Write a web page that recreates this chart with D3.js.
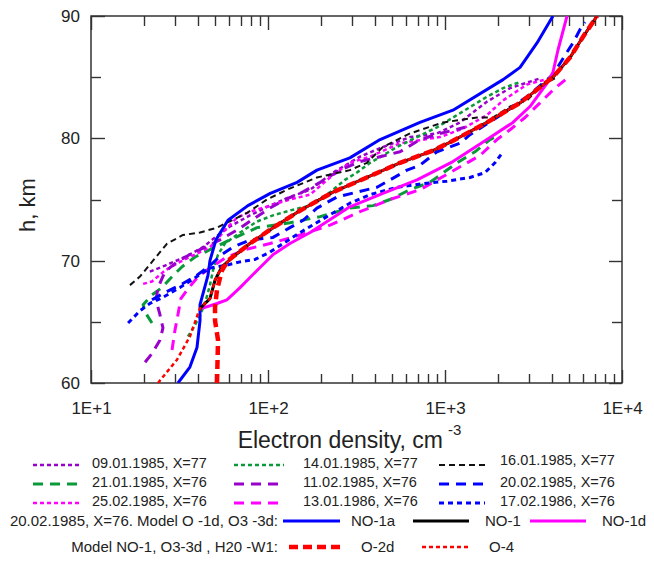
<!DOCTYPE html>
<html>
<head>
<meta charset="utf-8">
<script src="https://cdn.jsdelivr.net/npm/d3@7"></script>
<style>
body { margin: 0; background: #fff; }
svg text { font-family: "Liberation Sans", Arial, sans-serif; fill: #222; }
</style>
</head>
<body>
<div id="chart"></div>
<script>
// profiles: [electron density cm^-3, height km]
const exp0901 = [[21.5,69.1],[26.2,69.6],[34,70.3],[42.9,71.1],[50.2,71.9],[61,72.8],[79,73.7],[102.6,74.5],[133,75.2],[173,75.8],[233,77.2],[331,78.5],[430,79.2],[634,80.1],[901,80.4],[1216,81.3],[1726,83.0],[2330,84.1],[3443,84.9]];
const exp2101 = [[22.1,64.9],[20.2,65.8],[19.7,66.4],[22.1,67.2],[25.2,67.8],[28.7,68.7],[32.7,69.5],[38.7,70.3],[47,70.9],[61,71.7],[86.7,72.7],[133,73.1],[197,73.6],[290,74.3],[392,74.5],[489,75.0],[634,75.8],[822,76.4],[1169,78.0],[1476,78.9],[1795,79.9],[1915,80.1]];
const exp2502 = [[19.7,68.1],[22.1,68.3],[26.2,69.2],[31.8,69.9],[38.7,70.5],[47,71.1],[51.5,71.7],[58.6,72.7],[66.8,73.5],[79,74.0],[102.6,74.5],[133,75.0],[173,75.4],[224,76.8],[290,78.0],[377,78.5],[557,79.6],[937,80.1],[1264,80.8],[1726,81.9],[2128,83.1],[2904,84.4],[3672,84.8]];
const exp1401 = [[35.3,63.8],[38.2,64.6],[41.3,65.5],[44.6,66.8],[47,68.0],[48.9,69.2],[52.2,70.5],[57.1,71.4],[69.5,72.3],[86.7,73.2],[106.7,73.7],[133,74.1],[173,74.5],[224,75.6],[272,76.6],[318,77.2],[377,78.0],[446,78.6],[536,79.3],[695,80.1],[901,80.9],[1169,81.9],[1439,82.7],[1726,83.4],[2128,84.1],[2655,84.6]];
const exp1102 = [[20.2,61.7],[22.1,62.4],[24.5,63.5],[25.5,64.5],[24.5,65.6],[23.3,66.8],[23.9,67.8],[26.2,69.1],[30.6,69.9],[36.2,70.5],[44.1,71.1],[53.5,71.7],[66.8,72.5],[84.5,73.5],[102.6,74.3],[125,75.0],[152,75.5],[197,76.4],[255,77.4],[331,78.1],[430,78.5],[557,78.9],[722,79.9],[937,80.4],[1297,80.9]];
const exp1301 = [[28.7,62.7],[29.8,64.3],[31,65.6],[32.2,66.9],[35.3,67.7],[40.3,68.7],[47,69.4],[57.1,70.2],[74.2,70.9],[102.6,71.4],[152,72.1],[224,72.9],[331,74.0],[489,75.0],[722,75.8],[1067,77.2],[1578,78.6],[1966,79.9],[2330,80.7],[2832,81.7],[3443,82.9],[4178,84.1],[4890,84.9]];
const exp1601 = [[16.6,68],[18.9,68.7],[22.4,70],[26.9,71.4],[33.1,72.1],[41.3,72.3],[51.5,72.7],[58.6,73.1],[76,73.9],[98.7,75],[128,75.8],[189,76.8],[290,77.4],[362,78],[446,79.3],[634,80.4],[975,81.3],[1517,81.7],[1866,81.7],[2330,82.6],[2904,83.1],[3578,84.4],[4178,84.9]];
const exp2002 = [[22.1,66.8],[26.2,67.4],[31.8,68.0],[38.7,68.7],[47,69.6],[54.9,70.5],[63.4,71.1],[79,71.7],[106.7,71.9],[133,72.7],[158,73.3],[189,74.3],[245,75.2],[318,75.6],[413,76.0],[489,76.6],[610,77.4],[722,77.8],[901,78.9],[1216,79.6],[1384,80.3],[1966,81.7],[2904,83.4],[4074,85.2],[4766,86.8],[5288,87.8],[5794,88.9],[6180,89.5]];
const exp1702 = [[16.2,64.9],[18.9,65.9],[21.5,66.5],[25.5,67.0],[31.8,67.8],[38.7,68.6],[47,69.4],[57.1,69.6],[69.5,69.9],[84.5,70.1],[102.6,70.7],[124.8,71.5],[152,72.3],[215,73.6],[290,74.7],[377,75.4],[536,76.0],[751,76.3],[1026,76.5],[1384,76.8],[1683,77.2],[1915,78.0],[2128,78.9]];

const modelNO1a = [[31,60],[36.2,61.3],[39.7,62.9],[41.3,65.1],[41.3,66.4],[45.8,68.8],[47,70],[50.8,71.7],[59.4,73.3],[77,74.5],[103,75.5],[146,76.4],[189,77.4],[290,78.4],[430,79.9],[722,81.3],[1109,82.3],[2128,84.8],[2655,85.8],[3311,87.8],[4074,90]];
const modelNO1 = [[41.3,66.1],[47,66.9],[50.2,68.4],[54.9,69.5],[63.4,70.3],[79,71.4],[107,72.7],[152,74.1],[233,75.6],[362,76.8],[557,78],[855,79],[1109,79.8],[1726,81.3],[2655,82.9],[4074,85],[5082,86.6],[6026,88.3],[7228,90]];
const modelNO1d = [[42.4,66.1],[51.5,66.5],[58.6,66.8],[69.5,67.8],[86.7,69.2],[107,70.5],[133,71.4],[173,72.3],[290,74.4],[446,75.5],[695,76.6],[1109,78.1],[1726,79.9],[2421,81.3],[3020,82.6],[3767,84.5],[4074,85.4],[4345,87.2],[4890,90]];
const modelO2d = [[51.5,60],[52.2,63.5],[50.2,65.1],[50.2,66.2],[51.5,67.6],[54.9,69.2],[59.4,70.0],[79,71.4],[107,72.7],[152,74.1],[233,75.6],[362,76.8],[557,78],[855,79],[1109,79.8],[1726,81.3],[2655,82.9],[4074,85],[5082,86.6],[6026,88.3],[7228,90]];
const modelO4 = [[23.9,60],[30.6,61.9],[36.2,63.8],[40.3,65.7],[41.3,66.1],[47,66.9],[50.2,68.4],[54.9,69.5],[63.4,70.3],[79,71.4],[107,72.7],[152,74.1],[233,75.6],[362,76.8],[557,78],[855,79],[1109,79.8],[1726,81.3],[2655,82.9],[4074,85],[5082,86.6],[6026,88.3],[7228,90]];

const xMajor = [10, 100, 1000, 10000];
const xMajorLabels = ["1E+1", "1E+2", "1E+3", "1E+4"];
const yMajor = [60, 70, 80, 90];
const yMinor = [65, 75, 85];

const purple = "#9900cc", green = "#0b9a3a", magenta = "#ff00ff", blue = "#0000ff", red = "#ff0000";
const DOT = "4,3", LONG = "10,7", BDOT = "5,4";

// experimental profiles, in legend order
const expSeries = [
    {label: "09.01.1985, X=77", data: exp0901, color: purple, width: 2.5, dash: DOT},
    {label: "21.01.1985, X=76", data: exp2101, color: green, width: 3, dash: LONG},
    {label: "25.02.1985, X=76", data: exp2502, color: magenta, width: 2.5, dash: DOT},
    {label: "14.01.1985, X=77", data: exp1401, color: green, width: 2.5, dash: DOT},
    {label: "11.02.1985, X=76", data: exp1102, color: purple, width: 3, dash: LONG},
    {label: "13.01.1986, X=76", data: exp1301, color: magenta, width: 3, dash: LONG},
    {label: "16.01.1985, X=77", data: exp1601, color: "#111", width: 2, dash: "6,4"},
    {label: "20.02.1985, X=76", data: exp2002, color: blue, width: 3, dash: LONG},
    {label: "17.02.1986, X=76", data: exp1702, color: blue, width: 3, dash: BDOT}
];
const modelSeries = [
    {label: "NO-1a", data: modelNO1a, color: blue, width: 3, dash: null},
    {label: "NO-1d", data: modelNO1d, color: magenta, width: 3, dash: null},
    {label: "NO-1", data: modelNO1, color: "#000", width: 3, dash: null},
    {label: "O-2d", data: modelO2d, color: red, width: 4.5, dash: "9,5"},
    {label: "O-4", data: modelO4, color: red, width: 2.5, dash: "4,3"}
];

const W = 654, H = 564;
const m = {left: 91, right: 622, top: 16, bottom: 383};

const svg = d3.select("#chart").append("svg")
    .attr("width", W).attr("height", H);

const x = d3.scaleLog().domain([10, 10000]).range([m.left, m.right]);
const y = d3.scaleLinear().domain([60, 90]).range([m.bottom, m.top]);

// minor log ticks 2..9 in each decade
const xMinor = [];
xMajor.slice(0, 3).forEach(d => { for (let k = 2; k <= 9; k++) xMinor.push(d * k); });

// inward ticks on all four sides
const ticks = svg.append("g").attr("stroke", "#333").attr("stroke-width", 1.4);
function xTicks(values, y0, len) {
    ticks.append("g").selectAll("line").data(values).join("line")
        .attr("x1", d => Math.round(x(d)) + 0.5).attr("x2", d => Math.round(x(d)) + 0.5)
        .attr("y1", y0).attr("y2", y0 + len);
}
function yTicks(values, x0, len) {
    ticks.append("g").selectAll("line").data(values).join("line")
        .attr("y1", d => Math.round(y(d)) + 0.5).attr("y2", d => Math.round(y(d)) + 0.5)
        .attr("x1", x0).attr("x2", x0 + len);
}
xTicks(xMinor, m.bottom, -9);
xTicks(xMajor, m.bottom, -13);
xTicks(xMinor, m.top, 10);
xTicks(xMajor, m.top, 14);
yTicks(yMinor, m.left, 10);
yTicks(yMajor, m.left, 14);
yTicks(yMinor, m.right, -10);
yTicks(yMajor, m.right, -13);

// tick labels via d3 axes (tick marks drawn above)
svg.append("g").attr("transform", `translate(0,${m.bottom})`)
    .call(d3.axisBottom(x).tickValues(xMajor).tickSize(0).tickPadding(19)
        .tickFormat((d, i) => xMajorLabels[i]))
    .call(g => g.select(".domain").remove())
    .call(g => g.selectAll("text").attr("fill", "#222").style("font-size", "17px")
        .style("font-family", "'Liberation Sans', Arial, sans-serif"));
svg.append("g").attr("transform", `translate(${m.left},0)`)
    .call(d3.axisLeft(y).tickValues(yMajor).tickSize(0).tickPadding(11).tickFormat(d3.format("d")))
    .call(g => g.select(".domain").remove())
    .call(g => g.selectAll("text").attr("fill", "#222").style("font-size", "17px")
        .style("font-family", "'Liberation Sans', Arial, sans-serif"));

svg.append("rect")
    .attr("x", m.left).attr("y", m.top)
    .attr("width", m.right - m.left).attr("height", m.bottom - m.top)
    .attr("fill", "none").attr("stroke", "#333").attr("stroke-width", 1.5);

// axis titles
svg.append("text").attr("x", 443).attr("y", 448)
    .attr("text-anchor", "end").style("font-size", "23px")
    .text("Electron density,  cm");
svg.append("text").attr("x", 448).attr("y", 435)
    .style("font-size", "15px").text("-3");

svg.append("text")
    .attr("transform", "translate(35,205) rotate(-90)")
    .attr("text-anchor", "middle").style("font-size", "22px")
    .text("h, km");

// curves
svg.append("clipPath").attr("id", "plot-clip")
    .append("rect").attr("x", m.left).attr("y", m.top)
    .attr("width", m.right - m.left).attr("height", m.bottom - m.top);

const line = d3.line()
    .x(d => x(d[0]))
    .y(d => y(d[1]))
    .curve(d3.curveLinear);

const plot = svg.append("g").attr("clip-path", "url(#plot-clip)");

function drawCurve(s) {
    plot.append("path")
        .attr("d", line(s.data))
        .attr("fill", "none")
        .attr("stroke", s.color)
        .attr("stroke-width", s.width)
        .attr("stroke-dasharray", s.dash)
        .attr("stroke-linejoin", "round");
}
expSeries.forEach(drawCurve);
modelSeries.forEach(drawCurve);

// legend
function legendSample(s, x1, x2, yy) {
    svg.append("line")
        .attr("x1", x1).attr("x2", x2).attr("y1", yy).attr("y2", yy)
        .attr("stroke", s.color).attr("stroke-width", s.width)
        .attr("stroke-dasharray", s.dash);
}
const colSample = [[33, 80], [234, 284], [439, 485]];
const colText = [92, 303, 500];
const rowY = [465, 484, 503];

expSeries.forEach((s, i) => {
    const col = Math.floor(i / 3), row = i % 3;
    const yy = rowY[row];
    legendSample(s, colSample[col][0], colSample[col][1], yy);
    svg.append("text").attr("x", colText[col]).attr("y", yy + 3 - (col === 2 && row === 0 ? 3 : 0))
        .style("font-size", "14.5px").text(s.label);
});

svg.append("text").attr("x", 278).attr("y", 526).attr("text-anchor", "end")
    .style("font-size", "15px").text("20.02.1985, X=76. Model O -1d, O3 -3d:");
legendSample(modelSeries[0], 283, 340, 521);
svg.append("text").attr("x", 351).attr("y", 526).style("font-size", "15px").text("NO-1a");
legendSample(modelSeries[2], 413, 469, 521);
svg.append("text").attr("x", 485).attr("y", 526).style("font-size", "15px").text("NO-1");
legendSample(modelSeries[1], 530, 586, 521);
svg.append("text").attr("x", 602).attr("y", 526).style("font-size", "15px").text("NO-1d");

svg.append("text").attr("x", 278).attr("y", 552).attr("text-anchor", "end")
    .style("font-size", "15px").text("Model  NO-1, O3-3d , H20 -W1:");
legendSample(modelSeries[3], 289, 343, 547);
svg.append("text").attr("x", 361).attr("y", 552).style("font-size", "15px").text("O-2d");
legendSample(modelSeries[4], 422, 470, 547);
svg.append("text").attr("x", 489).attr("y", 552).style("font-size", "15px").text("O-4");
</script>
</body>
</html>
